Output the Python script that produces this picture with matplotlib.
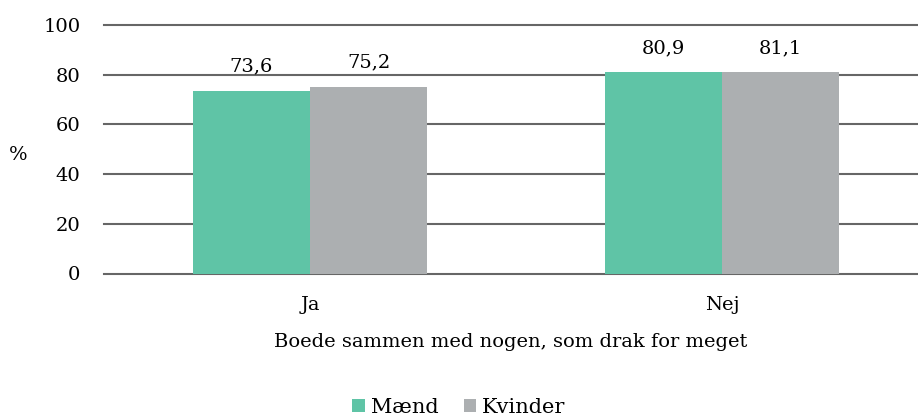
import matplotlib.pyplot as plt
import numpy as np

categories = ["Ja", "Nej"]
maend = [73.6, 80.9]
kvinder = [75.2, 81.1]
series_names = ["Mænd", "Kvinder"]
colors = ["#5fc4a6", "#acafb1"]

plt.rcParams['font.family'] = ['DejaVu Serif']
plt.rcParams['font.size'] = 14

fig = plt.figure(figsize=(9.18, 4.19), dpi=100)
ax = fig.add_axes([104 / 918, 1 - 273.5 / 419, (918 - 104) / 918, 248.5 / 419])

x = np.arange(len(categories))
w = 0.285
b1 = ax.bar(x - w / 2, maend, w, color=colors[0], label=series_names[0], zorder=3)
b2 = ax.bar(x + w / 2, kvinder, w, color=colors[1], label=series_names[1], zorder=3)

for bars, vals in [(b1, maend), (b2, kvinder)]:
    for rect, v in zip(bars, vals):
        ax.text(rect.get_x() + rect.get_width() / 2, v + 6, f"{v:.1f}".replace(".", ","),
                ha="center", va="bottom", fontsize=14)

ax.set_ylim(0, 100)
ax.set_yticks(range(0, 101, 20))
ax.set_xlim(-0.5, 1.5 - 10 / 412)
ax.set_xticks(x)
ax.set_xticklabels(categories)
ax.grid(axis="y", color="#666666", linewidth=1.5, zorder=0)
for gl in ax.get_ygridlines():
    gl.set_clip_on(False)
ax.tick_params(length=0)
ax.tick_params(axis="y", pad=17)
ax.tick_params(axis="x", pad=16)
for s in ax.spines.values():
    s.set_visible(False)

ax.set_xlabel("Boede sammen med nogen, som drak for meget", labelpad=14)
ax.set_ylabel("%", rotation=0, labelpad=0)
ax.yaxis.set_label_coords(-86 / 814, 0.44)

fig.legend(loc="center", bbox_to_anchor=(0.5, 1 - 407 / 419), ncol=2, frameon=False,
           handlelength=0.6, handleheight=0.6, handletextpad=0.3, columnspacing=1.2,
           fontsize=15)

fig.savefig("out.png", dpi=100)
